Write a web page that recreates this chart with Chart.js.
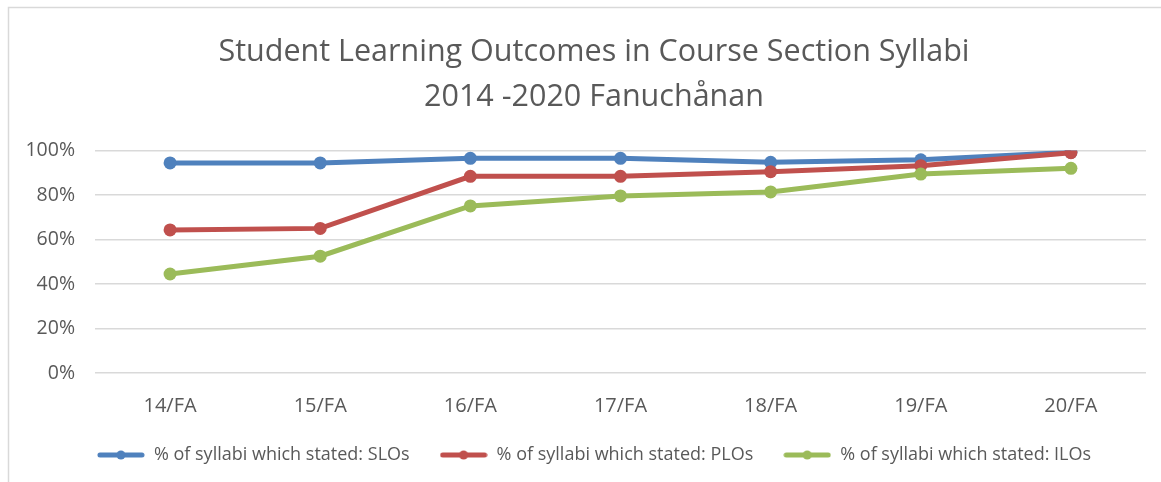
<!DOCTYPE html>
<html><head><meta charset="utf-8">
<script src="https://cdn.jsdelivr.net/npm/chart.js@4/dist/chart.umd.min.js"></script>
<style>html,body{margin:0;padding:0;background:#fff;}#wrap{width:1161px;height:482px;}</style>
</head><body><div id="wrap"><canvas id="c" width="1161" height="482"></canvas></div>
<script>
const categories = ["14/FA","15/FA","16/FA","17/FA","18/FA","19/FA","20/FA"];
const sloValues = [94.4, 94.4, 96.5, 96.5, 94.7, 95.8, 99.2];
const ploValues = [64.3, 65.0, 88.4, 88.4, 90.5, 93.2, 99.0];
const iloValues = [44.5, 52.5, 75.1, 79.6, 81.4, 89.4, 92.0];
const seriesNames = ["% of syllabi which stated: SLOs","% of syllabi which stated: PLOs","% of syllabi which stated: ILOs"];
const titleLines = ["Student Learning Outcomes in Course Section Syllabi","2014 -2020 Fanuchånan"];
const colors = ["#4F81BD","#C0504D","#9BBB59"];
const FONT = "'Open Sans', sans-serif";

function legendIcon(color){
  const cv = document.createElement('canvas');
  cv.width = 48; cv.height = 12;
  const g = cv.getContext('2d');
  g.strokeStyle = color; g.lineWidth = 5; g.lineCap = 'round';
  g.beginPath(); g.moveTo(3,6); g.lineTo(45,6); g.stroke();
  g.fillStyle = color; g.beginPath(); g.arc(24,6,4.5,0,Math.PI*2); g.fill();
  return cv;
}

const borderPlugin = {
  id:'frame',
  afterLayout(chart){
    // the reference frame extends past the right edge, so title and legend sit right of canvas centre
    if (chart.titleBlock) chart.titleBlock.left += 42;
    if (chart.legend) chart.legend.left += 42;
  },
  beforeDraw(chart){
    const ctx = chart.ctx;
    ctx.save();
    ctx.strokeStyle = '#d9d9d9'; ctx.lineWidth = 1.5;
    ctx.beginPath(); ctx.moveTo(8.5,482); ctx.lineTo(8.5,7.5); ctx.lineTo(1161,7.5); ctx.stroke();
    ctx.restore();
  }
};

const allValues = [sloValues, ploValues, iloValues];
new Chart(document.getElementById('c'), {
  type:'line',
  data:{
    labels: categories,
    datasets: allValues.map((v,i)=>({
      label: seriesNames[i], data: v,
      borderColor: colors[i], backgroundColor: colors[i],
      borderWidth: 5, pointRadius: 6.5, pointHoverRadius: 6.5,
      pointBackgroundColor: colors[i], pointBorderWidth: 0,
      tension: 0, order: 2 - i
    }))
  },
  options:{
    responsive:false, animation:false,
    layout:{padding:{left:0,right:15,top:0,bottom:8}},
    plugins:{
      tooltip:{enabled:false},
      title:{display:true, text:titleLines, color:'#595959',
        font:{family:FONT, size:30.5, weight:'normal', lineHeight:1.5},
        padding:{top:29,bottom:30}},
      legend:{position:'bottom',
        labels:{usePointStyle:true, pointStyleWidth:48, boxHeight:12, padding:30,
          color:'#595959', font:{family:FONT, size:18},
          generateLabels:(chart)=>seriesNames.map((n,i)=>({
            text:n, pointStyle:legendIcon(colors[i]), fillStyle:colors[i],
            strokeStyle:colors[i], lineWidth:0, hidden:false, datasetIndex:i, fontColor:'#595959'
          }))
        }
      }
    },
    scales:{
      x:{offset:true, grid:{display:false, drawTicks:false}, border:{display:false},
        ticks:{color:'#595959', font:{family:FONT, size:20}, padding:21},
        afterFit:(s)=>{s.height=43;}},
      y:{min:0, max:100, grid:{color:'#d9d9d9', lineWidth:1.5, drawTicks:false}, border:{display:false},
        ticks:{stepSize:20, color:'#595959', font:{family:FONT, size:19.5}, padding:20,
          callback:(v)=>v+'%'},
        afterFit:(s)=>{s.width=95;}}
    }
  },
  plugins:[borderPlugin]
});
</script></body></html>
